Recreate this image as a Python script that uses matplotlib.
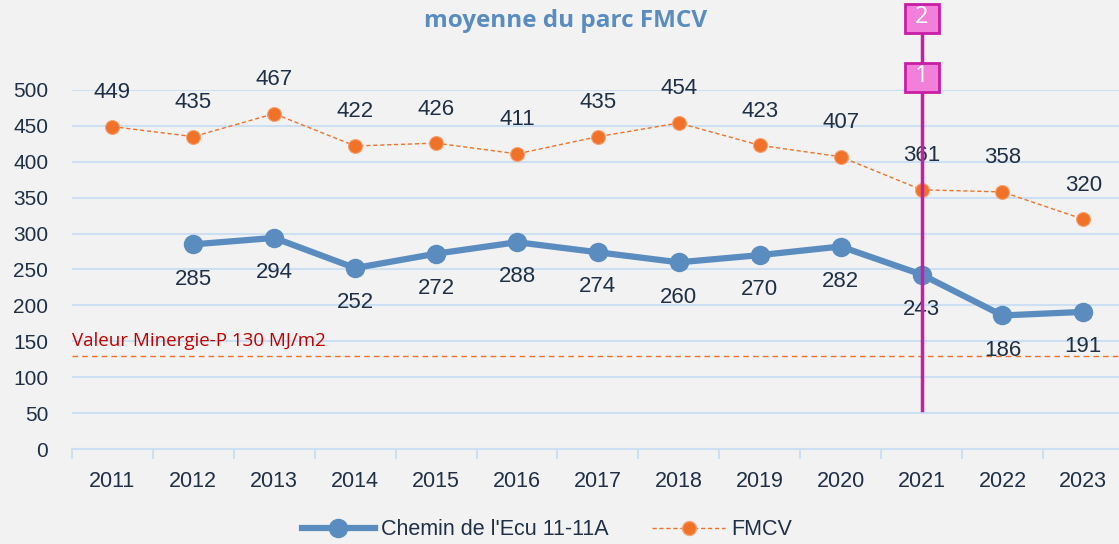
import numpy as np
import matplotlib
matplotlib.use("Agg")
import matplotlib.pyplot as plt
from matplotlib.lines import Line2D
from matplotlib.patches import Rectangle

# ── data ─────────────────────────────────────────────────────────────────────
years = ["2011", "2012", "2013", "2014", "2015", "2016", "2017",
         "2018", "2019", "2020", "2021", "2022", "2023"]
fmcv = [449, 435, 467, 422, 426, 411, 435, 454, 423, 407, 361, 358, 320]
chemin = [np.nan, 285, 294, 252, 272, 288, 274, 260, 270, 282, 243, 186, 191]
minergie = 130
marker_year = "2021"

BG = "#f2f2f2"
GRID = "#cddff2"
TXT = "#1f2f45"
BLUE = "#5a8cbf"
ORANGE = "#f07228"
MAGENTA = "#c81ea6"

plt.rcParams["font.family"] = ["Liberation Sans", "DejaVu Sans"]

fig = plt.figure(figsize=(11.19, 5.44), dpi=100)
fig.patch.set_facecolor(BG)
ax = fig.add_axes([0.0643, 0.1746, 0.94, 0.66])
ax.set_facecolor(BG)

x = np.arange(len(years))
ax.set_xlim(-0.5, len(years) - 0.5)
ax.set_ylim(0, 500)
ax.set_yticks(np.arange(0, 501, 50))
ax.yaxis.grid(True, color=GRID, linewidth=1.5, zorder=0)
ax.set_axisbelow(True)
for s in ["top", "right", "left"]:
    ax.spines[s].set_visible(False)
ax.spines["bottom"].set_color(GRID)
ax.spines["bottom"].set_linewidth(1.5)

ax.set_xticks(x)
ax.set_xticklabels(years)
ax.set_xticks(np.arange(-0.5, len(years), 1), minor=True)
ax.tick_params(axis="x", which="major", length=0, pad=16, labelsize=15.5, labelcolor=TXT)
ax.tick_params(axis="x", which="minor", length=7, width=1.5, color=GRID)
ax.tick_params(axis="y", length=0, pad=17, labelsize=15, labelcolor=TXT)

# Minergie reference line
ax.axhline(minergie, color=ORANGE, linewidth=1, linestyle=(0, (4, 3)), zorder=2)
ax.text(-0.5, minergie + 8, f"Valeur Minergie-P {minergie} MJ/m2", color="#c00000",
        fontsize=13.5, family=["Open Sans", "DejaVu Sans"], ha="left", va="bottom")

# series
ax.plot(x, chemin, color=BLUE, linewidth=4.5, marker="o", markersize=13,
        zorder=4, clip_on=False)
ax.plot(x, fmcv, color=ORANGE, linewidth=1, linestyle=(0, (3, 2)), marker="o",
        markersize=10, markeredgecolor="#f8a070", markeredgewidth=0.8, zorder=5, clip_on=False)

for xi, v in zip(x, fmcv):
    ax.annotate(f"{v}", (xi, v), textcoords="offset points", xytext=(0, 24.5),
                ha="center", va="center", fontsize=16, color=TXT, annotation_clip=False)
for xi, v in zip(x, chemin):
    if np.isnan(v):
        continue
    ax.annotate(f"{v:.0f}", (xi, v), textcoords="offset points", xytext=(0, -25),
                ha="center", va="center", fontsize=16, color=TXT, annotation_clip=False)

# magenta marker line with numbered boxes
mi = years.index(marker_year)
ax.plot([mi, mi], [54, 600], color=MAGENTA, linewidth=2.5, zorder=6, clip_on=False)
to_fig = ax.transData + fig.transFigure.inverted()
bw, bh = 34 / 1119, 29 / 544
for lab, yv in [("1", 518), ("2", 600)]:
    cx, cy = to_fig.transform((mi, yv))
    fig.add_artist(Rectangle((cx - bw / 2, cy - bh / 2), bw, bh, transform=fig.transFigure,
                             facecolor="#f27fda", edgecolor=MAGENTA, linewidth=2, zorder=7))
    fig.text(cx, cy + 0.002, lab, ha="center", va="center", color="white", fontsize=17,
             zorder=8, family=["Open Sans", "DejaVu Sans"])

fig.text(0.505, 0.962, "moyenne du parc FMCV", ha="center", va="center",
         fontsize=17.5, fontweight="bold", color=BLUE, family=["Open Sans", "DejaVu Sans"])

handles = [
    Line2D([], [], color=BLUE, linewidth=4.5, marker="o", markersize=13),
    Line2D([], [], color=ORANGE, linewidth=1, linestyle=(0, (3, 2)), marker="o",
           markersize=10, markeredgecolor="#f8a070"),
]
fig.legend(handles, ["Chemin de l'Ecu 11-11A", "FMCV"], loc="center",
           bbox_to_anchor=(0.489, 0.026), ncol=2, frameon=False, fontsize=15.5,
           labelcolor=TXT, handlelength=3.4, columnspacing=2.0, handletextpad=0.3)

plt.savefig("out.png", dpi=100, facecolor=fig.get_facecolor())
